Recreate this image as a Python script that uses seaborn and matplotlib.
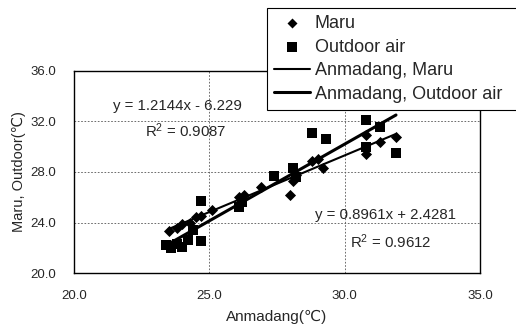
import numpy as np
import pandas as pd
import matplotlib
matplotlib.use("Agg")
import matplotlib.pyplot as plt
import seaborn as sns

# ---- data ----
maru_x = [23.5, 23.8, 24.0, 24.3, 24.5, 24.7, 25.1, 26.1, 26.3, 26.9, 28.0, 28.1, 28.2,
          28.8, 29.2, 29.0, 30.8, 30.8, 31.3, 31.9]
maru_y = [23.3, 23.6, 23.9, 24.0, 24.4, 24.5, 25.0, 26.0, 26.2, 26.8, 26.2, 27.3, 27.8,
          28.9, 28.3, 29.0, 29.4, 30.9, 30.4, 30.8]
outdoor_x = [23.4, 23.6, 23.8, 24.0, 24.2, 24.4, 24.7, 24.7, 26.1, 26.2, 27.4, 28.1, 28.2,
             28.8, 29.3, 30.8, 30.8, 31.3, 31.9]
outdoor_y = [22.2, 22.0, 22.3, 22.1, 22.6, 23.4, 25.7, 22.5, 25.2, 25.6, 27.7, 28.3, 27.6,
             31.1, 30.6, 32.1, 30.0, 31.6, 29.5]

# trend lines: (slope, intercept, R²)
maru_fit = (0.8961, 2.4281, 0.9612)
outdoor_fit = (1.2144, -6.229, 0.9087)

x_ticks = [20.0, 25.0, 30.0, 35.0]
y_ticks = [20.0, 24.0, 28.0, 32.0, 36.0]

sns.set_style("white")
plt.rcParams['font.family'] = ['Liberation Sans', 'DejaVu Sans']
plt.rcParams['mathtext.fontset'] = 'custom'
plt.rcParams['mathtext.rm'] = 'Liberation Sans'
plt.rcParams['mathtext.it'] = 'Liberation Sans'

fig = plt.figure(figsize=(5.16, 3.33), dpi=100)
ax = fig.add_axes([0.1434, 0.180, 0.7866, 0.607])

df_m = pd.DataFrame({"x": maru_x, "y": maru_y})
df_o = pd.DataFrame({"x": outdoor_x, "y": outdoor_y})

sns.scatterplot(data=df_m, x="x", y="y", marker="D", s=32, color="black",
                edgecolor="black", linewidth=0, ax=ax, label="Maru", zorder=3)
sns.scatterplot(data=df_o, x="x", y="y", marker="s", s=52, color="black",
                edgecolor="black", linewidth=0, ax=ax, label="Outdoor air", zorder=3)

xm = np.array([min(maru_x), max(maru_x)])
xo = np.array([min(outdoor_x), max(outdoor_x)])
sns.lineplot(x=xm, y=maru_fit[0] * xm + maru_fit[1], color="black", lw=1.5, ax=ax,
             label="Anmadang, Maru", zorder=4)
sns.lineplot(x=xo, y=outdoor_fit[0] * xo + outdoor_fit[1], color="black", lw=2.2, ax=ax,
             label="Anmadang, Outdoor air", zorder=4)

ax.set_xlim(20, 35)
ax.set_ylim(20, 36)
ax.set_xticks(x_ticks)
ax.set_yticks(y_ticks)
ax.set_xticklabels([f"{v:.1f}" for v in x_ticks], fontsize=9.5)
ax.set_yticklabels([f"{v:.1f}" for v in y_ticks], fontsize=9.5)
ax.tick_params(axis="y", length=0, pad=13)
ax.tick_params(axis="x", length=0, pad=12)
ax.grid(True, color="#555555", linestyle=(0, (2, 2)), linewidth=0.6)
for s in ax.spines.values():
    s.set_color("black")
    s.set_linewidth(1.0)
ax.set_xlabel("Anmadang(℃)", fontsize=11, labelpad=6)
ax.set_ylabel("Maru, Outdoor(℃)", fontsize=10.5, labelpad=3)

fs_ann = 10.8
ax.text(21.44, 33.2, f"y = {outdoor_fit[0]:.4f}x - {abs(outdoor_fit[1]):.3f}", fontsize=fs_ann,
        va="center", ha="left", zorder=5)
ax.text(22.62, 31.3, f"R$^2$ = {outdoor_fit[2]:.4f}", fontsize=fs_ann, va="center", ha="left", zorder=5)
ax.text(28.9, 24.6, f"y = {maru_fit[0]:.4f}x + {maru_fit[1]:.4f}", fontsize=fs_ann,
        va="center", ha="left", zorder=5)
ax.text(30.2, 22.5, f"R$^2$ = {maru_fit[2]:.4f}", fontsize=fs_ann, va="center", ha="left", zorder=5)

leg = fig.legend(*ax.get_legend_handles_labels(), loc="upper left",
                 bbox_to_anchor=(0.5174, 0.0, 0.6, 0.976), mode="expand",
                 fontsize=13, frameon=True,
                 fancybox=False, edgecolor="black", framealpha=1, borderpad=0.4,
                 labelspacing=0.36, handlelength=2.0, handletextpad=0.25, borderaxespad=0,
                 markerscale=0.9)
leg.get_frame().set_linewidth(0.8)
ax.get_legend().remove()

fig.savefig("out.png", dpi=100)
